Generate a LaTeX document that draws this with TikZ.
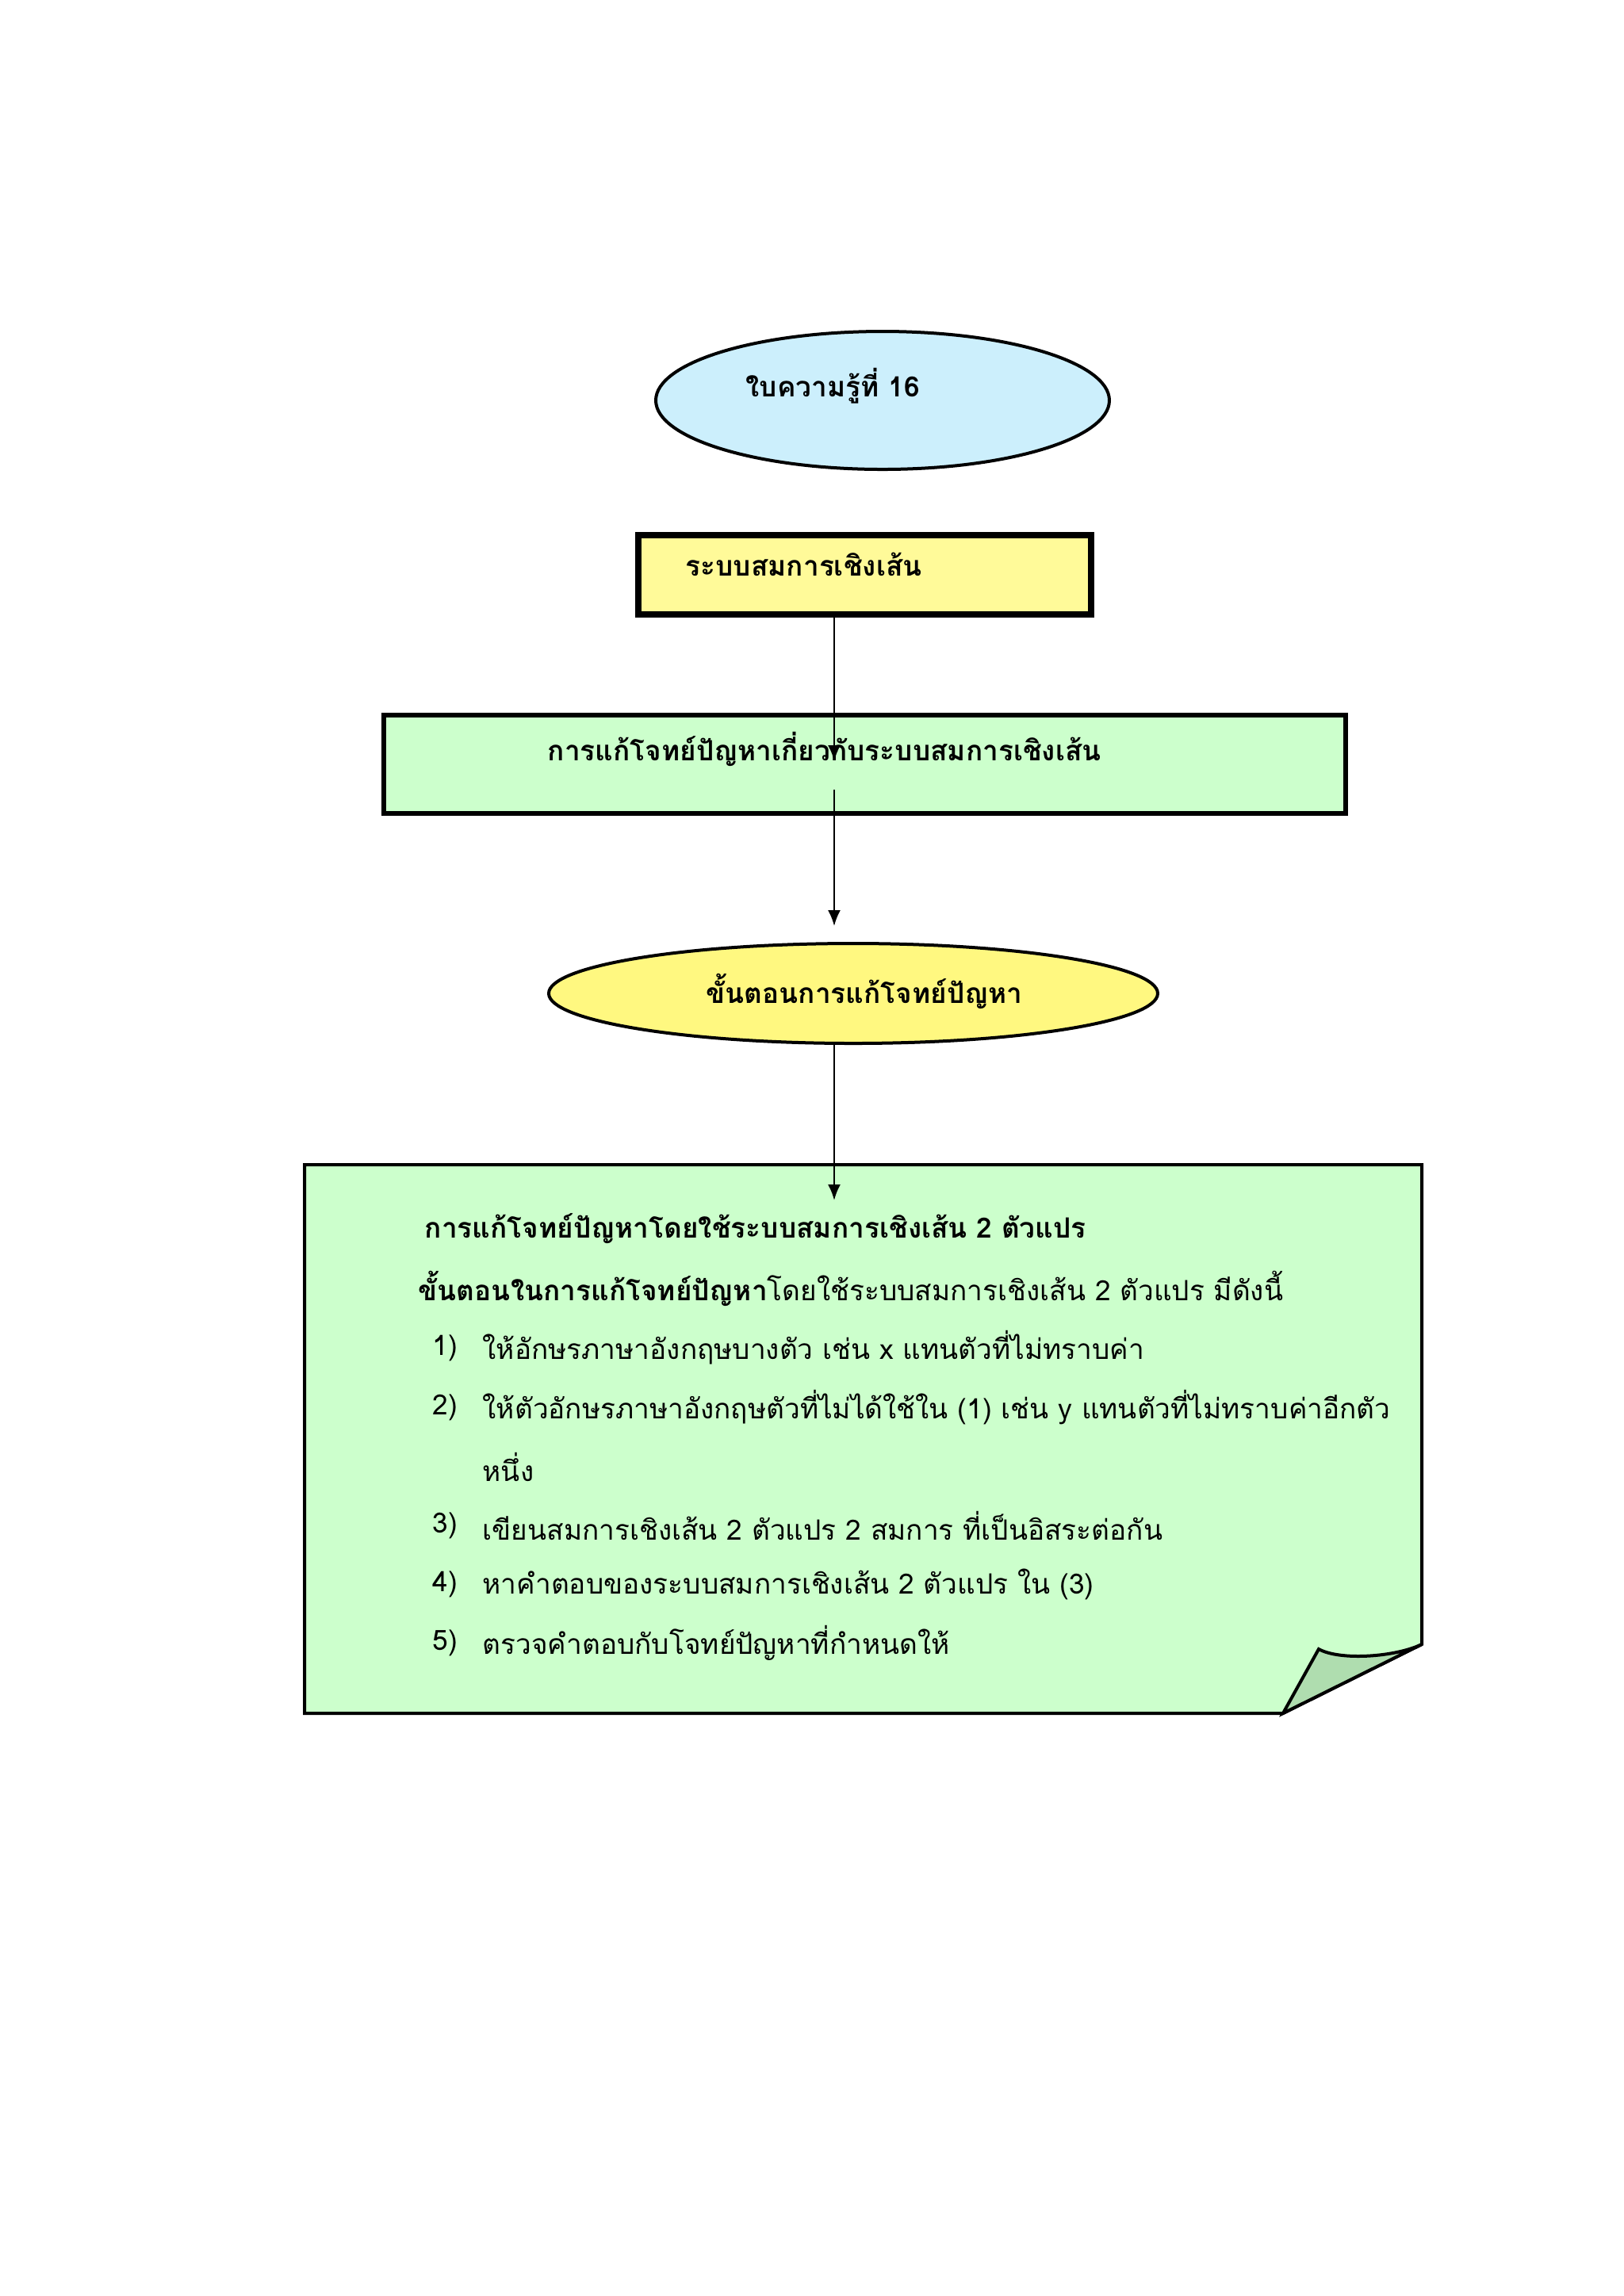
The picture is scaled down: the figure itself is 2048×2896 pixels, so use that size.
\documentclass[tikz,border=0pt]{standalone}
\usepackage{fontspec}
\newfontfamily\thai[Script=Thai]{Loma}
\usetikzlibrary{shapes.geometric,arrows.meta}
\begin{document}
\begin{tikzpicture}[x=0.25pt,y=-0.25pt,
  txt/.style={anchor=west,inner sep=0pt,font=\thai\fontsize{8.8}{11}\selectfont},
  btxt/.style={txt,font=\thai\bfseries\fontsize{8.8}{11}\selectfont},
  arr/.style={-{Latex[length=5pt,width=4pt]},line width=0.6pt}]
\useasboundingbox (0,0) rectangle (2048,2896);
\node[ellipse,draw,line width=1pt,fill=cyan!20,minimum width=143pt,minimum height=43.5pt,inner sep=0pt] (e1) at (1113,505) {};
\node[btxt] at (940,487) {ใบความรู้ที่  16};
\node[draw,line width=2pt,fill=yellow!40!white,minimum width=142.75pt,minimum height=25pt,inner sep=0pt] (r1) at (1090,725) {};
\node[btxt] at (864,712) {ระบบสมการเชิงเส้น};
\node[draw,line width=1.5pt,fill=green!20,minimum width=303.25pt,minimum height=31pt,inner sep=0pt] (r2) at (1090,964) {};
\node[btxt] at (690,945) {การแก้โจทย์ปัญหาเกี่ยวกับระบบสมการเชิงเส้น};
\coordinate (a1) at (1052,775);
\coordinate (a1e) at (1052,960);
\coordinate (a2) at (1052,996);
\coordinate (a2e) at (1052,1168);
\draw[arr] (a1) -- (a1e);
\draw[arr] (a2) -- (a2e);
\node[ellipse,draw,line width=1pt,fill=yellow!50,minimum width=192pt,minimum height=31.5pt,inner sep=0pt] (e2) at (1076,1253) {};
\node[btxt,anchor=center] at (1090,1250) {ขั้นตอนการแก้โจทย์ปัญหา};
\coordinate (a3) at (1052,1316);
\coordinate (a3e) at (1052,1514);
\draw[line width=1pt,fill=green!20] (384,1469) -- (1793,1469) -- (1793,2074) -- (1618,2161) -- (384,2161) -- cycle;
\draw[line width=1pt,fill=green!40!gray!45] (1618,2161) -- (1663,2080) .. controls (1690,2095) and (1760,2090) .. (1793,2074) -- cycle;
\draw[arr] (a3) -- (a3e);
\node[btxt] at (535,1550) {การแก้โจทย์ปัญหาโดยใช้ระบบสมการเชิงเส้น  2  ตัวแปร};
\node[txt] at (527,1625) {\bfseries ขั้นตอนในการแก้โจทย์ปัญหา\mdseries โดยใช้ระบบสมการเชิงเส้น 2 ตัวแปร  มีดังนี้};
\foreach \n/\y/\t in {1)/1700/{ให้อักษรภาษาอังกฤษบางตัว  เช่น x  แทนตัวที่ไม่ทราบค่า},
  2)/1775/{ ให้ตัวอักษรภาษาอังกฤษตัวที่ไม่ได้ใช้ใน (1)  เช่น  y  แทนตัวที่ไม่ทราบค่าอีกตัว},
  3)/1924/{เขียนสมการเชิงเส้น 2 ตัวแปร  2 สมการ ที่เป็นอิสระต่อกัน},
  4)/1998/{หาคำตอบของระบบสมการเชิงเส้น 2 ตัวแปร  ใน (3)},
  5)/2072/{ตรวจคำตอบกับโจทย์ปัญหาที่กำหนดให้}}{
  \node[txt] at (545,\y) {\n};
  \node[txt] at (608,\y) {\t};
}
\node[txt] at (608,1850) {หนึ่ง};
\end{tikzpicture}
\end{document}
